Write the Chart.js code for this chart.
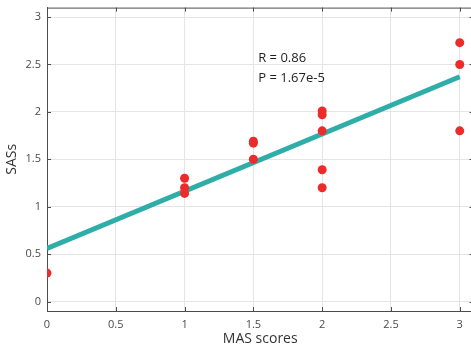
<!DOCTYPE html>
<html>
<head>
<meta charset="utf-8">
<script src="https://cdn.jsdelivr.net/npm/chart.js@4"></script>
<style>
  html, body { margin: 0; padding: 0; background: #fff; overflow: hidden; }
  #wrap { position: relative; top: -5px; width: 478px; height: 356px; }
</style>
</head>
<body>
<div id="wrap"><canvas id="chart"></canvas></div>
<script>
// MAS scores vs SASs
const masScores = [0, 1, 1, 1, 1.5, 1.5, 1.5, 2, 2, 2, 2, 2, 3, 3, 3];
const sasValues = [0.30, 1.30, 1.20, 1.14, 1.69, 1.67, 1.50, 2.01, 1.97, 1.80, 1.39, 1.20, 2.73, 2.50, 1.80];

// fitted line ends
const fitX = [0, 3];
const fitY = [0.56, 2.37];

const xTicks = [0, 0.5, 1, 1.5, 2, 2.5, 3];
const yTicks = [0, 0.5, 1, 1.5, 2, 2.5, 3];

const statLines = ['R = 0.86', 'P = 1.67e-5'];
const statAt    = { x: 1.535, y: 2.565 };

const FONT = '"Open Sans", "DejaVu Sans", sans-serif';
const AXIS = '#4d4d4d';

// box on top + inward ticks, like MATLAB
const boxPlugin = {
  id: 'box',
  afterDraw(chart) {
    const { ctx, chartArea: a, scales: { x, y } } = chart;
    ctx.save();
    ctx.strokeStyle = AXIS;
    ctx.lineWidth = 1;
    ctx.beginPath();
    ctx.moveTo(a.left, a.top + 0.5);
    ctx.lineTo(a.right, a.top + 0.5);
    xTicks.forEach(v => {
      const px = Math.round(x.getPixelForValue(v)) + 0.5;
      ctx.moveTo(px, a.bottom); ctx.lineTo(px, a.bottom - 4);
      ctx.moveTo(px, a.top);    ctx.lineTo(px, a.top + 4);
    });
    yTicks.forEach(v => {
      const py = Math.round(y.getPixelForValue(v)) + 0.5;
      ctx.moveTo(a.left, py);  ctx.lineTo(a.left + 4, py);
      ctx.moveTo(a.right, py); ctx.lineTo(a.right - 4, py);
    });
    ctx.stroke();

    // R / P text
    ctx.fillStyle = '#1f1f1f';
    ctx.font = '13px ' + FONT;
    ctx.textAlign = 'left';
    ctx.textBaseline = 'middle';
    const tx = x.getPixelForValue(statAt.x);
    const ty = y.getPixelForValue(statAt.y);
    statLines.forEach((s, i) => ctx.fillText(s, tx, ty + i * 20));
    ctx.restore();
  }
};

new Chart(document.getElementById('chart'), {
  type: 'scatter',
  data: {
    datasets: [
      {
        type: 'line',
        label: 'fit',
        data: fitX.map((v, i) => ({ x: v, y: fitY[i] })),
        borderColor: '#2fada8',
        borderWidth: 5,
        pointRadius: 0,
        fill: false,
        order: 2
      },
      {
        label: 'data',
        data: masScores.map((v, i) => ({ x: v, y: sasValues[i] })),
        backgroundColor: '#ee2b2b',
        borderColor: '#ee2b2b',
        pointRadius: 4.5,
        pointBorderWidth: 0,
        order: 1
      }
    ]
  },
  options: {
    responsive: true,
    maintainAspectRatio: false,
    animation: false,
    layout: { padding: { top: 8, right: 0, left: 0, bottom: 0 } },
    plugins: { legend: { display: false }, tooltip: { enabled: false } },
    scales: {
      x: {
        type: 'linear',
        min: 0,
        max: 3.1,
        afterBuildTicks: s => { s.ticks = xTicks.map(v => ({ value: v })); },
        afterFit: s => { s.height = 40; },
        grid: { color: '#e5e5e5', drawTicks: false },
        border: { color: AXIS, width: 1 },
        ticks: { color: '#4a4a4a', font: { family: FONT, size: 11 }, padding: 7, maxRotation: 0,
                 callback: v => String(v) },
        title: { display: true, text: 'MAS scores', color: '#333', font: { family: FONT, size: 14 }, padding: { top: 0 } }
      },
      y: {
        type: 'linear',
        min: -0.1,
        max: 3.1,
        afterBuildTicks: s => { s.ticks = yTicks.map(v => ({ value: v })); },
        afterFit: s => { s.width = 47; },
        grid: { color: '#e5e5e5', drawTicks: false },
        border: { color: AXIS, width: 1 },
        ticks: { color: '#4a4a4a', font: { family: FONT, size: 11 }, padding: 6,
                 callback: v => String(v) },
        title: { display: true, text: 'SASs', color: '#333', font: { family: FONT, size: 14 }, padding: { bottom: 0 } }
      }
    }
  },
  plugins: [boxPlugin]
});
</script>
</body>
</html>
